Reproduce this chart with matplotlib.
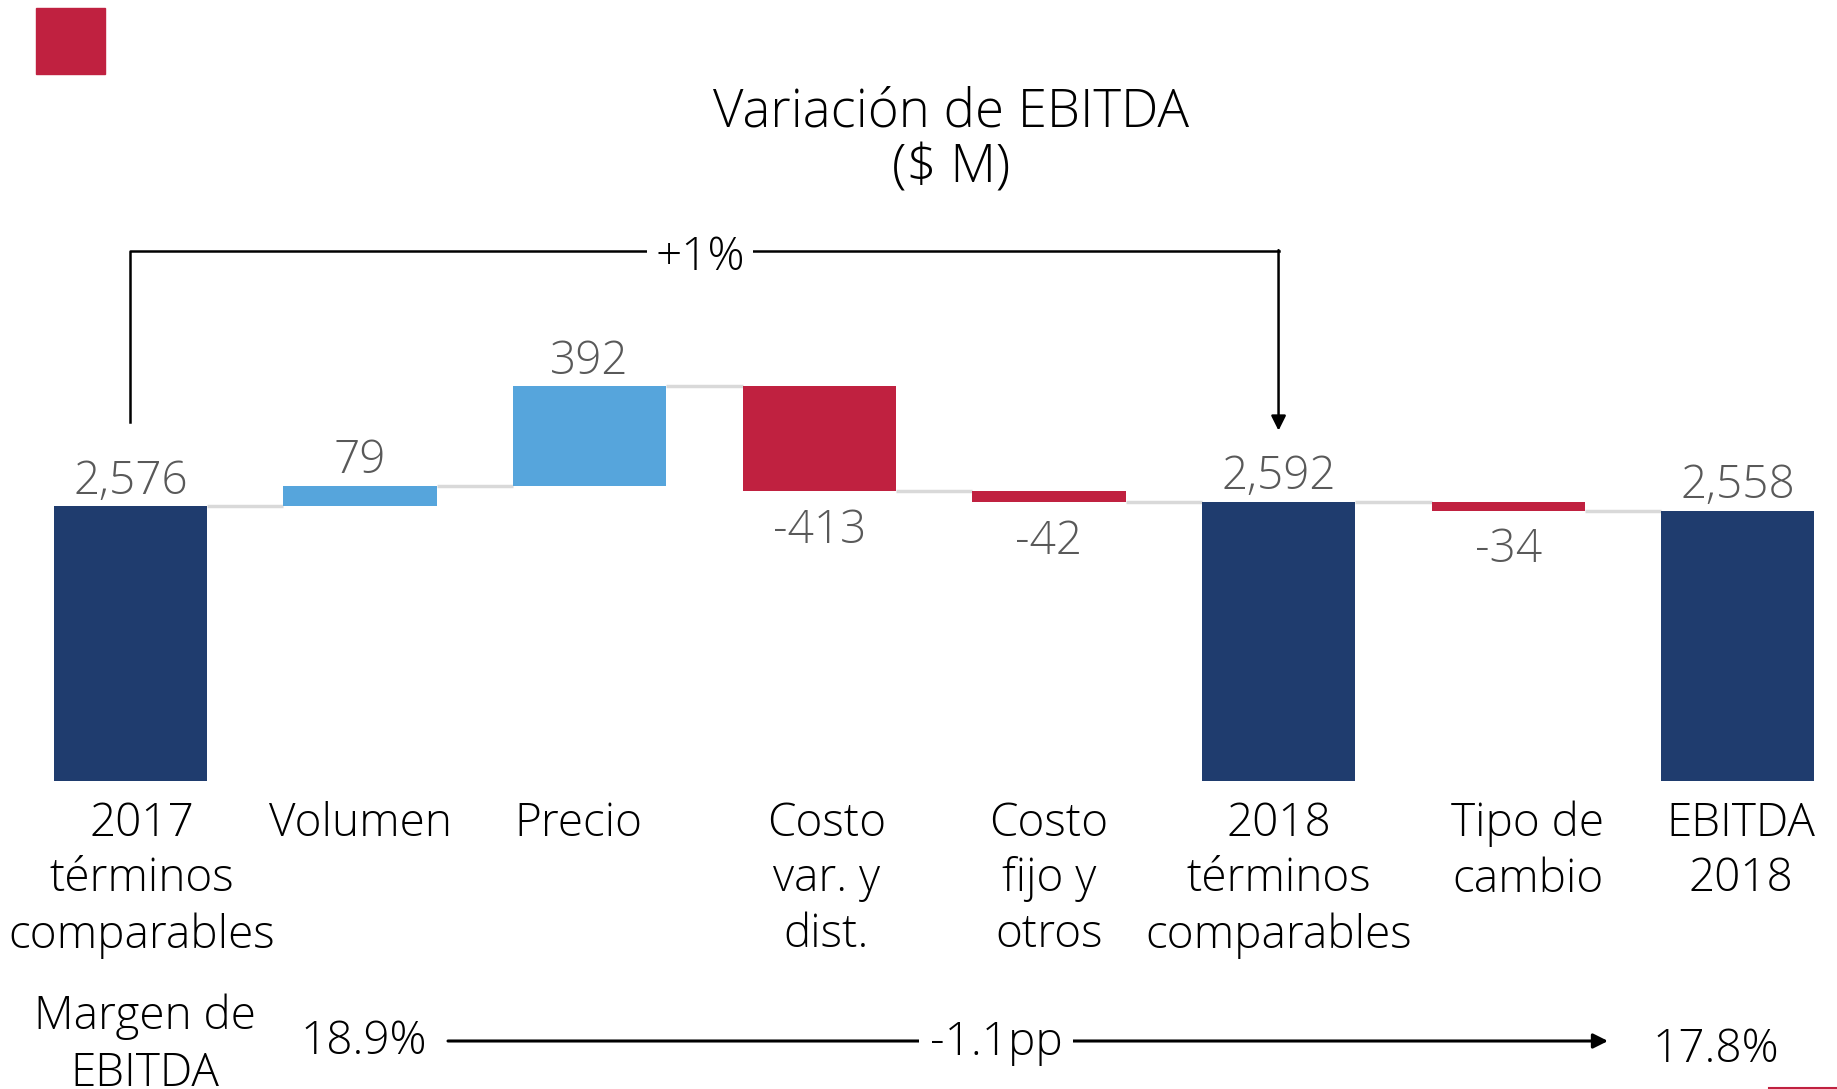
import numpy as np
import matplotlib.pyplot as plt

plt.rcParams['font.family'] = ['Open Sans', 'DejaVu Sans']
plt.rcParams['font.weight'] = 'light'

categories = ['2017\ntérminos\ncomparables', 'Volumen', 'Precio', 'Costo\nvar. y\ndist.',
              'Costo\nfijo y\notros', '2018\ntérminos\ncomparables', 'Tipo de\ncambio', 'EBITDA\n2018']
values = [2576, 79, 392, -413, -42, 2592, -34, 2558]
is_total = [True, False, False, False, False, True, False, True]
margin_start = '18.9%'
margin_end = '17.8%'
margin_change = '-1.1pp'
growth = '+1%'

NAVY = '#1f3c6e'
BLUE = '#56a5dc'
RED = '#c02140'
GREY_TXT = '#595959'

W, H = 1837, 1089
fig = plt.figure(figsize=(W / 100, H / 100), dpi=100)
ax = fig.add_axes([0, 0, 1, 1])
ax.set_xlim(-0.568, 7.432)
ax.set_ylim(285, 4564)
ax.axis('off')

base = 1495  # broken axis baseline
width = 0.667
x = np.arange(len(values))
# small horizontal nudges of the category text boxes (points)
label_dx = [8, 0, -8, 5, 0, 0, 14, 2]

running = 0
levels = []
for i, v in enumerate(values):
    if is_total[i]:
        bottom, height, color = base, v - base, NAVY
        running = v
    else:
        bottom, height = running, v
        color = BLUE if v > 0 else RED
        running += v
    ax.bar(x[i], height, bottom=bottom, width=width, color=color, zorder=3)
    levels.append(running)
    top = max(bottom, bottom + height)
    low = min(bottom, bottom + height)
    if v >= 0:
        ax.annotate(f'{v:,}', (x[i], top), xytext=(0, 1), textcoords='offset points',
                    ha='center', va='bottom', fontsize=33, color=GREY_TXT)
    else:
        ax.annotate(f'{v:,}', (x[i], low), xytext=(0, -12), textcoords='offset points',
                    ha='center', va='top', fontsize=33, color=GREY_TXT)
    ax.annotate(categories[i], (x[i], base), xytext=(label_dx[i], -14),
                textcoords='offset points', ha='center', va='top', fontsize=33,
                linespacing=1.28, color='black')

# connectors
for i in range(len(values) - 1):
    ax.plot([x[i] + width / 2, x[i + 1] - width / 2], [levels[i], levels[i]],
            color='#d9d9d9', lw=2.5, zorder=2, solid_capstyle='butt')

# growth bracket
y_top = 3578
ax.plot([0, 0, 5, 5], [values[0] + 330, y_top, y_top, y_top], color='black', lw=1.8)
ax.annotate('', xy=(5, values[5] + 280), xytext=(5, y_top + 3),
            arrowprops=dict(arrowstyle='-|>', color='black', lw=1.8, mutation_scale=22,
                            shrinkA=0, shrinkB=0))
ax.annotate(growth, (2.48, y_top), xytext=(0, -5), textcoords='offset points',
            ha='center', va='center', fontsize=33, zorder=5,
            bbox=dict(facecolor='white', edgecolor='none', pad=6))

# title
fig.text(951 / W, 1 - 113 / H, 'Variación de EBITDA', ha='center', va='center', fontsize=38)
fig.text(951 / W, 1 - 169 / H, '($ M)', ha='center', va='center', fontsize=38)

# margin row
fig.text(145 / W, 1 - 1045 / H, 'Margen de\nEBITDA', ha='center', va='center',
         fontsize=33, linespacing=1.3)
fig.text(364 / W, 1 - 1042 / H, margin_start, ha='center', va='center', fontsize=33)
fig.text(1716 / W, 1 - 1050 / H, margin_end, ha='center', va='center', fontsize=33)
ax.annotate('', xy=(1608 / W, 1 - 1041 / H), xytext=(448 / W, 1 - 1041 / H),
            xycoords='figure fraction', textcoords='figure fraction',
            arrowprops=dict(arrowstyle='-|>', color='black', lw=2.2, mutation_scale=22,
                            shrinkA=0, shrinkB=0))
fig.text(996 / W, 1 - 1043 / H, margin_change, ha='center', va='center', fontsize=33,
         bbox=dict(facecolor='white', edgecolor='none', pad=8), zorder=5)

# slide decorations
fig.patches.append(plt.Rectangle((36 / W, 1 - 74 / H), 69 / W, 66 / H,
                                 transform=fig.transFigure, color=RED))
fig.lines.append(plt.Line2D([1769 / W, 1], [1 - 1088 / H, 1 - 1088 / H],
                            transform=fig.transFigure, color=RED, lw=1.5))

fig.savefig('out.png', dpi=100)
